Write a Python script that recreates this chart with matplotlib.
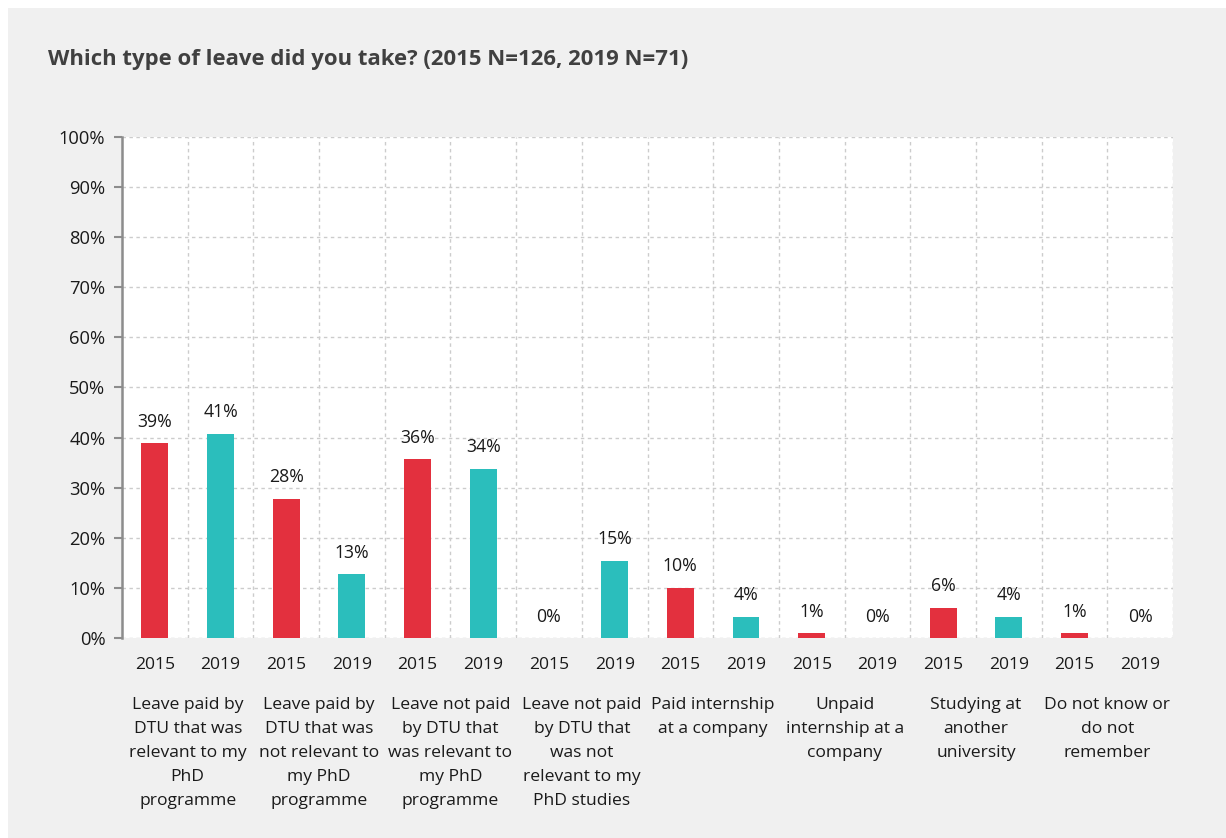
import matplotlib
matplotlib.use("Agg")
import matplotlib.pyplot as plt
import matplotlib.transforms as mtransforms
from matplotlib.patches import Rectangle
from matplotlib.ticker import FuncFormatter, MultipleLocator

categories = [
    "Leave paid by\nDTU that was\nrelevant to my\nPhD\nprogramme",
    "Leave paid by\nDTU that was\nnot relevant to\nmy PhD\nprogramme",
    "Leave not paid\nby DTU that\nwas relevant to\nmy PhD\nprogramme",
    "Leave not paid\nby DTU that\nwas not\nrelevant to my\nPhD studies",
    "Paid internship\nat a company",
    "Unpaid\ninternship at a\ncompany",
    "Studying at\nanother\nuniversity",
    "Do not know or\ndo not\nremember",
]
years = ["2015", "2019"]
values_2015 = [38.9, 27.8, 35.7, 0.0, 10.0, 0.9, 6.0, 0.9]
values_2019 = [40.8, 12.7, 33.8, 15.4, 4.2, 0.0, 4.2, 0.0]
title = "Which type of leave did you take? (2015 N=126, 2019 N=71)"

red = "#e3303e"
teal = "#2bbebc"
bg = "#f0f0f0"
txt = "#1a1a1a"

plt.rcParams["font.family"] = ["Open Sans", "DejaVu Sans"]

fig = plt.figure(figsize=(12.26, 8.38), dpi=100)
fig.patch.set_facecolor("white")
fig.patches.append(Rectangle((8 / 1226, 0), 1 - 8 / 1226, 1 - 8 / 838,
                             transform=fig.transFigure, facecolor=bg,
                             edgecolor="none", zorder=-10))

W, H = 1226, 838
left, right, top, bottom = 122, 1173, 137, 638
ax = fig.add_axes([left / W, 1 - bottom / H, (right - left) / W, (bottom - top) / H])
ax.set_facecolor("white")

n = len(categories)
xs, hs, cols, ylabels = [], [], [], []
for i in range(n):
    for j, (vals, c) in enumerate(((values_2015, red), (values_2019, teal))):
        xs.append(2 * i + j)
        hs.append(vals[i])
        cols.append(c)
        ylabels.append(years[j])

ax.bar(xs, hs, width=0.41, color=cols, zorder=3)
for x, h in zip(xs, hs):
    ax.annotate(f"{round(h):.0f}%", (x, h), xytext=(0, 9), textcoords="offset points",
                ha="center", va="bottom", fontsize=12.7, color=txt, zorder=4)

ax.set_xlim(-0.5, 2 * n - 0.5)
ax.set_ylim(0, 100)
ax.yaxis.set_major_locator(MultipleLocator(10))
ax.yaxis.set_major_formatter(FuncFormatter(lambda v, p: f"{v:.0f}%"))
ax.set_xticks(xs)
ax.set_xticklabels(ylabels)
ax.tick_params(axis="x", length=0, pad=14, labelsize=12.6, labelcolor=txt)
ax.tick_params(axis="y", length=6, width=1.5, color="#8c8c8c", pad=6,
               labelsize=13.2, labelcolor=txt)

grid_kw = dict(color="#cccccc", linestyle=(0, (2.5, 2.5)), linewidth=1.0, zorder=1)
for v in range(10, 101, 10):
    ax.axhline(v, **grid_kw)
ax.axhline(0, **grid_kw)
for k in range(1, 2 * n + 1):
    ax.axvline(k - 0.5, **grid_kw)

for s in ["top", "right", "bottom"]:
    ax.spines[s].set_visible(False)
ax.spines["left"].set_color("#8c8c8c")
ax.spines["left"].set_linewidth(1.8)

trans = mtransforms.blended_transform_factory(ax.transData, fig.transFigure)
for i, cat in enumerate(categories):
    ax.text(2 * i + 0.5, 1 - 697 / H, cat, transform=trans, ha="center", va="top",
            fontsize=12.6, color=txt, linespacing=1.66)

fig.text(48 / W, 1 - 59 / H, title, ha="left", va="center", fontsize=15.9,
         fontweight="bold", color="#404040")

fig.savefig("out.png", dpi=100, facecolor=fig.get_facecolor())
